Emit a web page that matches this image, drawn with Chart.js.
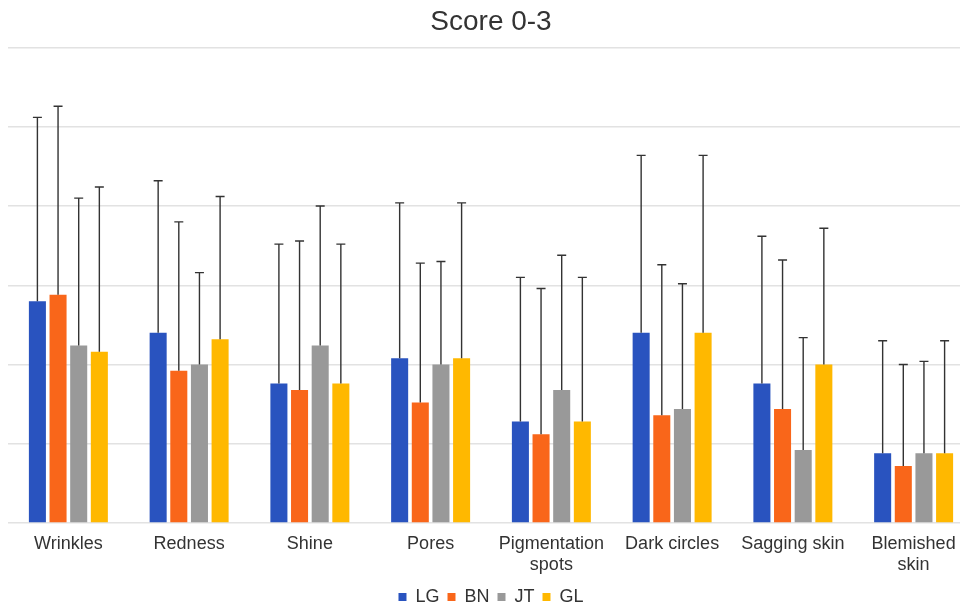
<!DOCTYPE html>
<html>
<head>
<meta charset="utf-8">
<script src="https://cdn.jsdelivr.net/npm/chart.js@4/dist/chart.umd.min.js"></script>
<style>
  html, body { margin: 0; padding: 0; background: #fff; overflow: hidden; }
  #wrap { width: 960px; height: 606px; overflow: hidden; }
</style>
</head>
<body>
<div id="wrap"><canvas id="chart" width="983" height="606"></canvas></div>
<script>
(function () {

  // categorias e series (media e desvio padrao, escala 0-3)
  const categories = ['Wrinkles', 'Redness', 'Shine', 'Pores', ['Pigmentation', 'spots'],
                      'Dark circles', 'Sagging skin', ['Blemished', 'skin']];

  const lgMean = [1.40, 1.20, 0.88, 1.04, 0.64, 1.20, 0.88, 0.44];
  const bnMean = [1.44, 0.96, 0.84, 0.76, 0.56, 0.68, 0.72, 0.36];
  const jtMean = [1.12, 1.00, 1.12, 1.00, 0.84, 0.72, 0.46, 0.44];
  const glMean = [1.08, 1.16, 0.88, 1.04, 0.64, 1.20, 1.00, 0.44];

  const lgSd = [1.16, 0.96, 0.88, 0.98, 0.91, 1.12, 0.93, 0.71];
  const bnSd = [1.19, 0.94, 0.94, 0.88, 0.92, 0.95, 0.94, 0.64];
  const jtSd = [0.93, 0.58, 0.88, 0.65, 0.85, 0.79, 0.71, 0.58];
  const glSd = [1.04, 0.90, 0.88, 0.98, 0.91, 1.12, 0.86, 0.71];

  const yTicks = [0, 0.5, 1, 1.5, 2, 2.5, 3];

  const font = '"Liberation Sans", Arial, Helvetica, sans-serif';

  const makeSet = (label, data, sd, color) => ({
    label          : label,
    data           : data,
    sd             : sd,
    backgroundColor: color,
    borderWidth    : 0
  });

  // desenha apenas a parte superior da barra de erro
  const errorBars = {
    id: 'errorBars',
    afterDatasetsDraw(chart) {
      const ctx = chart.ctx;
      const y   = chart.scales.y;
      ctx.save();
      ctx.strokeStyle = '#333';
      ctx.lineWidth   = 1.4;
      chart.data.datasets.forEach((ds, i) => {
        const meta = chart.getDatasetMeta(i);
        meta.data.forEach((bar, j) => {
          const top = y.getPixelForValue(ds.data[j] + ds.sd[j]);
          ctx.beginPath();
          ctx.moveTo(bar.x, bar.y);
          ctx.lineTo(bar.x, top);
          ctx.moveTo(bar.x - 4.5, top);
          ctx.lineTo(bar.x + 4.5, top);
          ctx.stroke();
        });
      });
      ctx.restore();
    }
  };

  new Chart(document.getElementById('chart'), {
    type: 'bar',
    data: {
      labels  : categories,
      datasets: [
        makeSet('LG', lgMean, lgSd, '#2953bf'),
        makeSet('BN', bnMean, bnSd, '#f9661a'),
        makeSet('JT', jtMean, jtSd, '#999999'),
        makeSet('GL', glMean, glSd, '#ffb800')
      ]
    },
    options: {
      responsive         : false,
      animation          : false,
      devicePixelRatio   : 1,
      categoryPercentage : 0.684,
      barPercentage      : 0.825,
      layout: { padding: { left: 8, right: 9, top: 0, bottom: -10 } },
      plugins: {
        title: {
          display: true,
          text   : 'Score 0-3',
          color  : '#333',
          font   : { family: font, size: 28, weight: 'normal' },
          padding: { top: 5, bottom: 9 }
        },
        legend: {
          position: 'bottom',
          labels  : {
            color    : '#333',
            font     : { family: font, size: 18 },
            boxWidth : 8,
            boxHeight: 8,
            padding  : 8
          }
        },
        tooltip: { enabled: false }
      },
      scales: {
        x: {
          grid  : { display: false, drawTicks: false },
          border: { display: false },
          ticks : {
            color      : '#333',
            font       : { family: font, size: 18 },
            padding    : 10,
            maxRotation: 0,
            autoSkip   : false
          },
          afterFit: (axis) => { axis.height = 57; }
        },
        y: {
          min   : yTicks[0],
          max   : yTicks[yTicks.length - 1],
          afterBuildTicks: (axis) => { axis.ticks = yTicks.map(v => ({ value: v })); },
          grid  : { color: '#e2e2e2', lineWidth: 1.5, drawTicks: false },
          border: { display: false },
          ticks : { display: false }
        }
      }
    },
    plugins: [errorBars]
  });

})();
</script>
</body>
</html>
